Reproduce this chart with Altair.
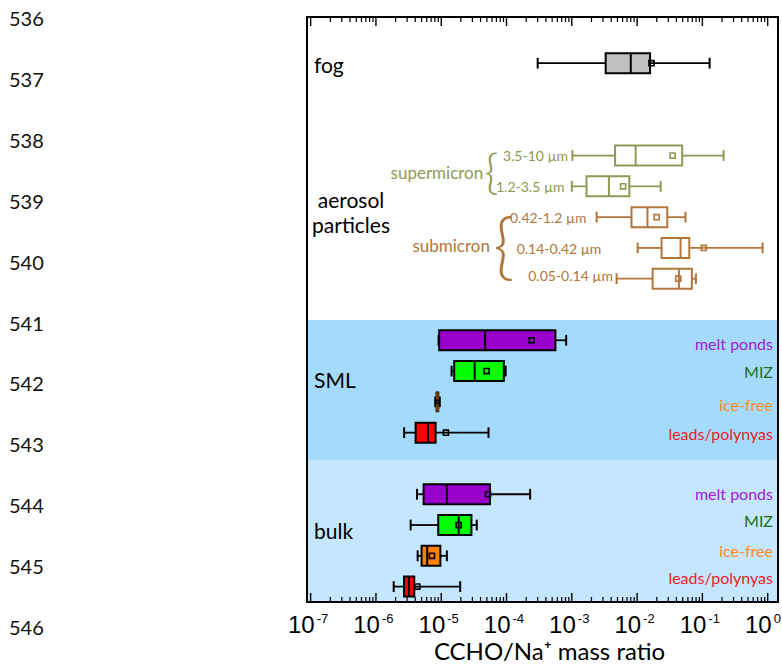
import altair as alt
import pandas as pd

W, H = 471, 585
FONT = "Lato"

# ---------------- data ----------------
names = ["fog", "3.5-10 µm", "1.2-3.5 µm", "0.42-1.2 µm", "0.14-0.42 µm", "0.05-0.14 µm",
         "SML melt ponds", "SML MIZ", "SML ice-free", "SML leads/polynyas",
         "bulk melt ponds", "bulk MIZ", "bulk ice-free", "bulk leads/polynyas"]
kinds = ["fog", "supermicron", "supermicron", "submicron", "submicron", "submicron",
         "melt ponds", "MIZ", "ice-free", "leads/polynyas",
         "melt ponds", "MIZ", "ice-free", "leads/polynyas"]
rows = [1.5, 4.5, 5.5, 6.5, 7.5, 8.5, 10.5, 11.5, 12.5, 13.5, 15.5, 16.5, 17.5, 18.5]
w_lo = [3.0e-4, 1.02e-3, 1.0e-3, 2.4e-3, 1.02e-2, 4.85e-3,
        9.1e-6, 1.44e-5, 8.1e-6, 2.7e-6, 4.25e-6, 3.4e-6, 4.35e-6, 1.87e-6]
q1 = [3.3e-3, 4.6e-3, 1.68e-3, 8.2e-3, 2.37e-2, 1.73e-2,
      9.3e-6, 1.58e-5, 8.3e-6, 4.05e-6, 5.37e-6, 9.0e-6, 5.0e-6, 2.69e-6]
med = [8.0e-3, 9.5e-3, 3.7e-3, 1.44e-2, 4.63e-2, 4.37e-2,
       4.7e-5, 3.25e-5, 8.7e-6, 6.25e-6, 1.22e-5, 1.85e-5, 6.1e-6, 3.2e-6]
q3 = [1.58e-2, 4.9e-2, 7.6e-3, 2.9e-2, 6.3e-2, 6.9e-2,
      5.6e-4, 9.1e-5, 9.2e-6, 8.2e-6, 5.57e-5, 2.9e-5, 9.7e-6, 3.86e-6]
w_hi = [0.129, 0.211, 2.3e-2, 5.5e-2, 0.835, 7.96e-2,
        8.2e-4, 9.7e-5, 9.5e-6, 5.3e-5, 2.3e-4, 3.5e-5, 1.22e-5, 1.95e-5]
mean = [1.66e-2, 3.5e-2, 6.1e-3, 1.99e-2, 0.105, 4.27e-2,
        2.42e-4, 4.95e-5, 8.7e-6, 1.18e-5, 5.2e-5, 1.85e-5, 7.2e-6, 4.3e-6]

# group labels (left side)
group_labels = ["fog", "SML", "bulk"]
group_rows = [1.61, 11.84, 16.77]
aerosol_label = ["aerosol", "particles"]
aerosol_rows = [6.01, 6.81]

# size-class labels
size_labels = ["3.5-10 µm", "1.2-3.5 µm", "0.42-1.2 µm", "0.14-0.42 µm", "0.05-0.14 µm"]
size_kinds = ["supermicron", "supermicron", "submicron", "submicron", "submicron"]
size_at = [8.8e-5, 6.9e-5, 1.13e-4, 1.43e-4, 2.15e-4]
size_rows = [4.55, 5.56, 6.57, 7.58, 8.43]
class_labels = ["supermicron", "submicron"]
class_at = [4.4e-5, 5.57e-5]
class_rows = [5.10, 7.46]
brace_at = [5.9e-5, 9.1e-5]
brace_rows = [5.13, 7.53]
brace_sizes = [48, 72]

# right-hand labels
right_labels = ["melt ponds", "MIZ", "ice-free", "leads/polynyas"] * 2
right_rows = [10.65, 11.57, 12.62, 13.58, 15.52, 16.39, 17.37, 18.24]

# background bands
band_names = ["SML", "bulk"]
band_start = [9.84, 14.39]
band_end = [14.39, 19.0]

# axis
decades = [1e-7, 1e-6, 1e-5, 1e-4, 1e-3, 1e-2, 1e-1, 1e0]
exponents = ["-7", "-6", "-5", "-4", "-3", "-2", "-1", "0"]
minor_ticks = [m * d for d in decades[:-1] for m in range(2, 10)]

line_numbers = list(range(536, 547))

# ---------------- styles ----------------
kind_dom = ["fog", "supermicron", "submicron", "melt ponds", "MIZ", "ice-free", "leads/polynyas"]
fill_rng = ["#c0c0c0", "transparent", "transparent", "#9900cc", "#00ff00", "#ff8000", "#ff0000"]
stroke_rng = ["#000000", "#8c9a53", "#b3763a", "#000000", "#000000", "#000000", "#000000"]
text_dom = ["supermicron", "submicron", "melt ponds", "MIZ", "ice-free", "leads/polynyas"]
text_rng = ["#8c9a53", "#b3763a", "#a020d6", "#1b6e1b", "#ff8a20", "#ee1d24"]

xscale = alt.Scale(type="log", domain=[10 ** -7.056, 10 ** 0.158], nice=False)
yscale = alt.Scale(domain=[0, 19], reverse=True, nice=False, zero=False)
fill_sc = alt.Scale(domain=kind_dom, range=fill_rng)
stroke_sc = alt.Scale(domain=kind_dom, range=stroke_rng)
text_sc = alt.Scale(domain=text_dom, range=text_rng)

axis_title = alt.Axis(orient="bottom", ticks=False, labels=False, domain=False, grid=False,
                      title="CCHO/Na⁺ mass ratio", titleFont=FONT, titleFontSize=24,
                      titleFontWeight="normal", titleColor="black",
                      titleBaseline="alphabetic", titleAlign="center",
                      titleX=242, titleY=57)

box = pd.DataFrame({"name": names, "kind": kinds, "row": rows, "lo": w_lo, "q1": q1,
                    "med": med, "q3": q3, "hi": w_hi, "mean": mean})
bands = pd.DataFrame({"band": band_names, "start": band_start, "end": band_end})

Y = lambda f: alt.Y(f, type="quantitative", scale=yscale, axis=None)
X = lambda f, ax=None: alt.X(f, type="quantitative", scale=xscale, axis=ax)
STROKE = alt.Stroke("kind:N", scale=stroke_sc, legend=None)

base = alt.Chart(box).transform_calculate(
    ytop="datum.row - 0.325", ybot="datum.row + 0.325",
    ctop="datum.row - 0.175", cbot="datum.row + 0.175")

band_sml = alt.Chart(bands).transform_filter("datum.band == 'SML'").mark_rect(color="#a4dbfd").encode(
    x=alt.value(0), x2=alt.value(W), y=Y("start"), y2="end")
band_bulk = alt.Chart(bands).transform_filter("datum.band == 'bulk'").mark_rect(color="#c4e6fe").encode(
    x=alt.value(0), x2=alt.value(W), y=Y("start"), y2="end")

wl = base.mark_rule(strokeWidth=1.8).encode(x=X("lo", axis_title), x2="q1", y=Y("row"), stroke=STROKE)
wr = base.mark_rule(strokeWidth=1.8).encode(x=X("q3"), x2="hi", y=Y("row"), stroke=STROKE)
cap_lo = base.mark_rule(strokeWidth=2).encode(x=X("lo"), y=Y("ctop"), y2="cbot", stroke=STROKE)
cap_hi = base.mark_rule(strokeWidth=2).encode(x=X("hi"), y=Y("ctop"), y2="cbot", stroke=STROKE)
thin = "datum.name == 'SML ice-free'"
boxes = base.mark_rect().encode(
    x=X("q1"), x2="q3", y=Y("ytop"), y2="ybot",
    fill=alt.Fill("kind:N", scale=fill_sc, legend=None), stroke=STROKE,
    strokeWidth=alt.condition(thin, alt.value(0.8), alt.value(2)))
medians = base.mark_rule().encode(x=X("med"), y=Y("ytop"), y2="ybot", stroke=STROKE,
                                  strokeWidth=alt.condition(thin, alt.value(0.8), alt.value(2)))
means = base.mark_point(shape="square", filled=False, strokeWidth=1.6, opacity=1).encode(
    x=X("mean"), y=Y("row"), stroke=STROKE,
    size=alt.condition(thin, alt.value(10), alt.value(26)))

gl = alt.Chart(pd.DataFrame({"t": group_labels, "row": group_rows})).mark_text(
    font=FONT, fontSize=21, align="left", baseline="middle", color="black").encode(
    x=alt.value(7), y=Y("row"), text="t:N")
al = alt.Chart(pd.DataFrame({"t": aerosol_label, "row": aerosol_rows})).mark_text(
    font=FONT, fontSize=21, align="center", baseline="middle", color="black").encode(
    x=alt.value(44), y=Y("row"), text="t:N")

COLOR = alt.Color("kind:N", scale=text_sc, legend=None)
sl = alt.Chart(pd.DataFrame({"t": size_labels, "kind": size_kinds, "at": size_at, "row": size_rows})).mark_text(
    font=FONT, fontSize=14, align="left", baseline="middle").encode(
    x=X("at"), y=Y("row"), text="t:N", color=COLOR)
cl = alt.Chart(pd.DataFrame({"t": class_labels, "kind": class_labels, "at": class_at, "row": class_rows})).mark_text(
    font=FONT, fontSize=17, align="right", baseline="middle").encode(
    x=X("at"), y=Y("row"), text="t:N", color=COLOR)
br_df = pd.DataFrame({"t": ["{", "{"], "kind": class_labels, "at": brace_at, "row": brace_rows, "fs": brace_sizes})
braces = alt.Chart(br_df).mark_text(font=FONT, fontWeight=300, align="center", baseline="middle").encode(
    x=X("at"), y=Y("row"), text="t:N", color=COLOR,
    size=alt.Size("fs:Q", scale=None, legend=None))
rl = alt.Chart(pd.DataFrame({"t": right_labels, "kind": right_labels, "row": right_rows})).mark_text(
    font=FONT, fontSize=16, align="right", baseline="middle").encode(
    x=alt.value(W - 5), y=Y("row"), text="t:N", color=COLOR)

# inward-pointing ticks on bottom and top frame lines
maj_df = pd.DataFrame({"v": decades})
min_df = pd.DataFrame({"v": minor_ticks})
tick_layers = [
    alt.Chart(maj_df).mark_rule(strokeWidth=1.4, color="black").encode(x=X("v"), y=alt.value(H), y2=alt.value(H - 9)),
    alt.Chart(min_df).mark_rule(strokeWidth=1.2, color="black").encode(x=X("v"), y=alt.value(H), y2=alt.value(H - 5)),
    alt.Chart(maj_df).mark_rule(strokeWidth=1.4, color="black").encode(x=X("v"), y=alt.value(0), y2=alt.value(9)),
    alt.Chart(min_df).mark_rule(strokeWidth=1.2, color="black").encode(x=X("v"), y=alt.value(0), y2=alt.value(5)),
]

dec_df = pd.DataFrame({"v": decades, "e": exponents, "ten": ["10"] * len(decades)})
ten = alt.Chart(dec_df).mark_text(font="Liberation Sans", fontSize=24, align="right",
                                  baseline="alphabetic", dx=4, color="black").encode(
    x=X("v"), y=alt.value(616), text="ten:N")
exps = alt.Chart(dec_df).mark_text(font="Liberation Sans", fontSize=13, align="left",
                                   baseline="alphabetic", dx=6, color="black").encode(
    x=X("v"), y=alt.value(606), text="e:N")

ln = alt.Chart(pd.DataFrame({"n": line_numbers})).transform_calculate(
    r="0.1 + (datum.n - 536) * 1.978").mark_text(
    font=FONT, fontSize=20, align="left", baseline="middle", color="#111111").encode(
    x=alt.value(-298), y=Y("r"), text="n:N")

frame = alt.Chart(pd.DataFrame({"a": [0]})).mark_rect(
    fill="transparent", stroke="black", strokeWidth=2).encode(
    x=alt.value(0), x2=alt.value(W), y=alt.value(0), y2=alt.value(H))

chart = alt.layer(
    band_sml, band_bulk, wl, wr, cap_lo, cap_hi, boxes, medians, means,
    gl, al, sl, cl, braces, rl, *tick_layers, ten, exps, ln, frame
).resolve_axis(x="independent").properties(
    width=W, height=H,
    padding={"left": 307, "top": 17, "right": 4, "bottom": 67},
    autosize=alt.AutoSizeParams(type="none"),
).configure_view(stroke=None).configure(background="white")

chart.save("out.html", embed_options={"renderer": "svg", "actions": False})
